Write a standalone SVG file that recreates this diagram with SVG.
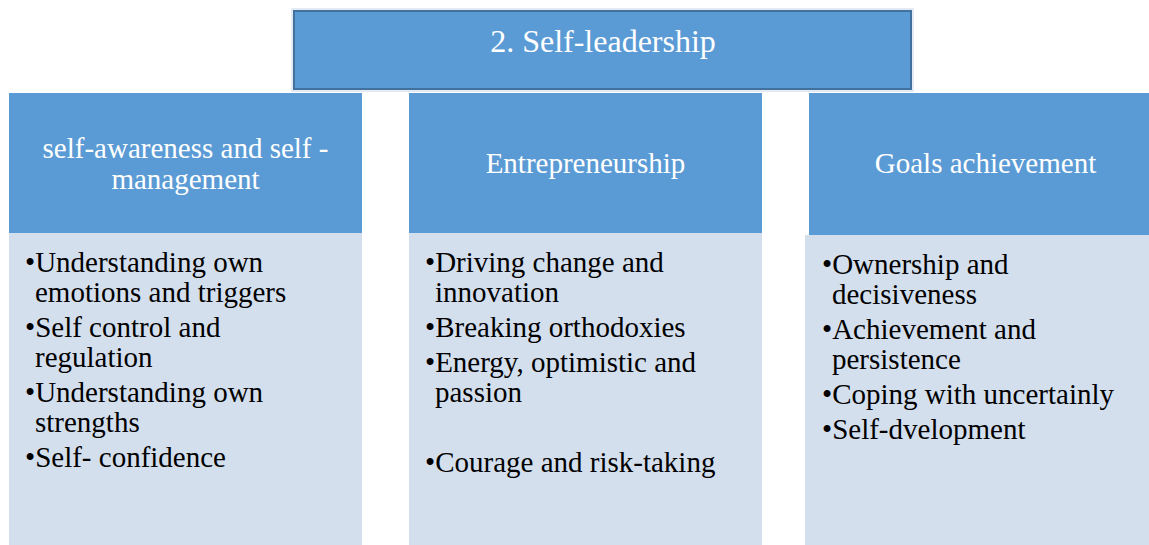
<svg xmlns="http://www.w3.org/2000/svg" width="1149" height="545" viewBox="0 0 1149 545">
<style>
.hdr{fill:#5B9BD5}
.body{fill:#D4DFEE}
.ht{font-family:'Liberation Serif','Times New Roman','DejaVu Serif',serif;font-size:29px;fill:#FFFFFF;text-anchor:middle}
.bt{font-family:'Liberation Serif','Times New Roman','DejaVu Serif',serif;font-size:29px;fill:#000000}
</style>
<rect width="1149" height="545" fill="#FFFFFF"/>
<g id="title">
<rect x="292" y="9" width="621" height="82" fill="none" stroke="#C7D6EA" stroke-width="1"/>
<rect x="294" y="11" width="617" height="78" fill="#5B9BD5" stroke="#41719C" stroke-width="2"/>
<text x="603" y="52" class="ht" font-family="Liberation Serif" style="font-size:32px">2. Self-leadership</text>
</g>
<g id="connectors"></g>
<g id="col1">
<rect x="9" y="93" width="353" height="140" class="hdr"/>
<rect x="9" y="233" width="353" height="312" class="body"/>
<text class="ht"><tspan x="185.5" y="158">self-awareness and self -</tspan><tspan x="185.5" y="189">management</tspan></text>
<text class="bt">
<tspan x="25" y="272">•Understanding own</tspan>
<tspan x="35" y="302">emotions and triggers</tspan>
<tspan x="25" y="337">•Self control and</tspan>
<tspan x="35" y="367">regulation</tspan>
<tspan x="25" y="402">•Understanding own</tspan>
<tspan x="35" y="432">strengths</tspan>
<tspan x="25" y="467">•Self- confidence</tspan>
</text>
</g>
<g id="col2">
<rect x="409" y="93" width="353" height="140" class="hdr"/>
<rect x="409" y="233" width="353" height="312" class="body"/>
<text x="585.5" y="173" class="ht">Entrepreneurship</text>
<text class="bt">
<tspan x="425" y="272">•Driving change and</tspan>
<tspan x="435" y="302">innovation</tspan>
<tspan x="425" y="337">•Breaking orthodoxies</tspan>
<tspan x="425" y="372">•Energy, optimistic and</tspan>
<tspan x="435" y="402">passion</tspan>
<tspan x="425" y="472">•Courage and risk-taking</tspan>
</text>
</g>
<g id="col3">
<rect x="809" y="93" width="353" height="142" class="hdr"/>
<rect x="805" y="235" width="353" height="310" class="body"/>
<text x="985.5" y="173" class="ht">Goals achievement</text>
<text class="bt">
<tspan x="822" y="274">•Ownership and</tspan>
<tspan x="832" y="304">decisiveness</tspan>
<tspan x="822" y="339">•Achievement and</tspan>
<tspan x="832" y="369">persistence</tspan>
<tspan x="822" y="404">•Coping with uncertainly</tspan>
<tspan x="822" y="439">•Self-dvelopment</tspan>
</text>
</g>
</svg>
